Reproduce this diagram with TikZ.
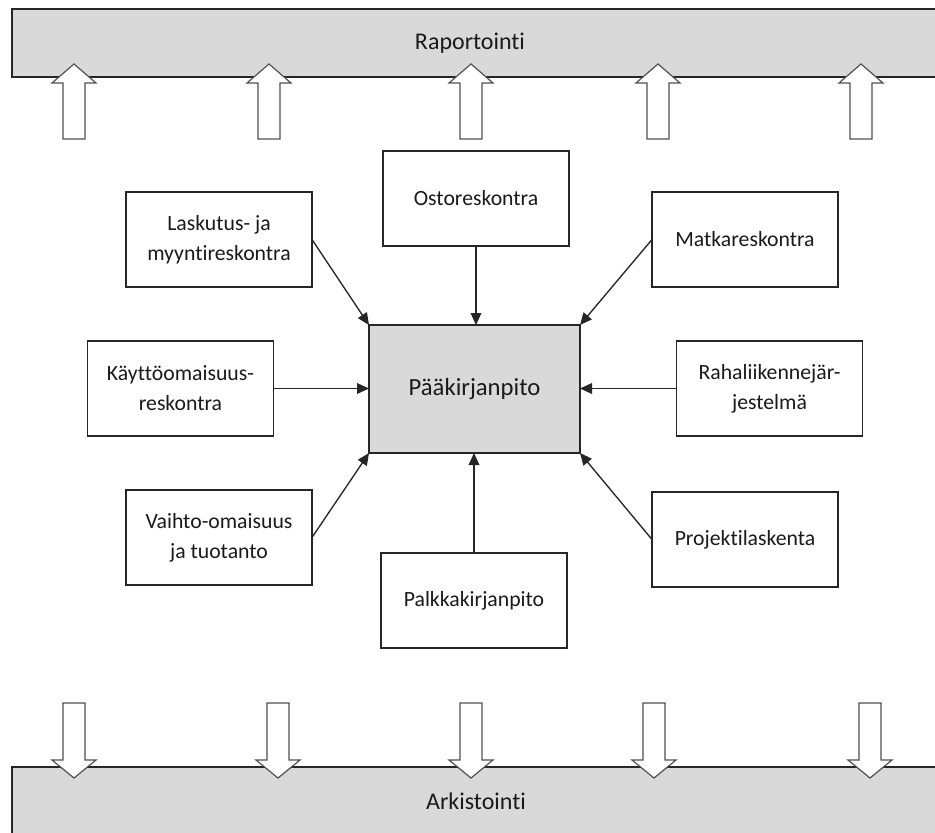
\documentclass[tikz,border=0pt]{standalone}
\usepackage{fontspec}
\setmainfont{Carlito}[Ligatures={CommonOff,ContextualOff}]
\usetikzlibrary{arrows.meta}
\newcommand\nolig{\kern0pt{}}
\definecolor{barfill}{HTML}{D9D9D9}
\definecolor{txt}{HTML}{1A1A1A}
\definecolor{edge}{HTML}{262626}
\tikzset{
  sbox/.style={draw=edge, line width=1.1pt, fill=white, minimum width=139.5pt, minimum height=71.25pt,
    inner sep=0pt, outer sep=0pt, align=center, text=txt, font=\fontsize{16.3}{22.5}\selectfont},
  mainbox/.style={draw=edge, line width=1.1pt, fill=barfill, minimum width=158.25pt, minimum height=96pt,
    inner sep=0pt, outer sep=0pt, text=txt, font=\fontsize{18.5}{22}\selectfont},
  bar/.style={draw=edge, line width=1.1pt, fill=barfill, inner sep=0pt, outer sep=0pt, anchor=north west},
  bartext/.style={text=txt, font=\fontsize{18}{22}\selectfont, inner sep=0pt},
  conn/.style={draw=edge, line width=1pt, -{Triangle[length=9pt,width=8pt]}},
  blockarrow/.style={draw=edge!80, line width=0.9pt, fill=white, line join=miter}
}
\begin{document}
\begin{tikzpicture}[x=0.75pt, y=-0.75pt]
\useasboundingbox (0,0) rectangle (935,832);
\clip (0,0) rectangle (935,832);
\fill[white] (0,0) rectangle (935,832);
% bars
\node[bar, minimum width=700pt, minimum height=51pt] (rap) at (12,9) {};
\node[bartext] (raptext) at (470,43) {Raportoint\nolig i};
\node[bar, minimum width=700pt, minimum height=60pt] (ark) at (12,767) {};
\node[bartext] (arktext) at (476,801) {Arkistoint\nolig i};
% up block arrows
\foreach \cx in {74,269,471,658,861} {
  \draw[blockarrow] (\cx-11,139) -- (\cx-11,83) -- (\cx-22,83) -- (\cx,64) -- (\cx+22,83) -- (\cx+11,83) -- (\cx+11,139) -- cycle;
}
% down block arrows
\foreach \cx in {74,278,471,654,870} {
  \draw[blockarrow] (\cx-11,703) -- (\cx-11,760) -- (\cx-22,760) -- (\cx,778) -- (\cx+22,760) -- (\cx+11,760) -- (\cx+11,703) -- cycle;
}
% boxes
\node[mainbox] (main) at (474.5,389) {Pääkirjanpito};
\node[sbox] (ost) at (476,198.5) {Ostoreskontra};
\node[sbox] (lask) at (219,239.5) {Laskutus- ja\\myynt\nolig ireskontra};
\node[sbox] (matk) at (745,239.5) {Matkareskontra};
\node[sbox] (kayt) at (180.5,388.5) {Käyttöomaisuus-\\reskontra};
\node[sbox] (raha) at (769.5,388.5) {Rahaliikennejär-\\jestelmä};
\node[sbox] (vaih) at (219,537.5) {Vaihto-omaisuus\\ja tuotanto};
\node[sbox] (proj) at (745,539.5) {Projekt\nolig ilaskenta};
\node[sbox] (palk) at (474,600.5) {Palkkakirjanpito};
% connectors
\draw[conn] (ost.south) -- (ost.south |- main.north);
\draw[conn] (lask.east) -- (main.north west);
\draw[conn] (matk.west) -- (main.north east);
\draw[conn] (kayt.east) -- (kayt.east -| main.west);
\draw[conn] (raha.west) -- (raha.west -| main.east);
\draw[conn] (vaih.east) -- (main.south west);
\draw[conn] (proj.west) -- (main.south east);
\draw[conn] (palk.north) -- (palk.north |- main.south);
\end{tikzpicture}
\end{document}
